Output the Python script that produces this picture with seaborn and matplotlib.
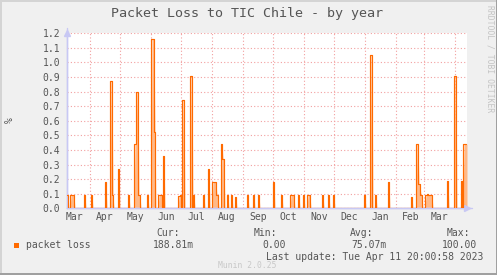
import numpy as np
import pandas as pd
import matplotlib
matplotlib.use("Agg")
import matplotlib.pyplot as plt
from matplotlib.patches import Rectangle
import seaborn as sns

# ---------------- data ----------------
start_date = "2022-03-09"
n_days = 400
# day offsets (from start_date) with non-zero packet loss and their values (%)
loss_days = [0, 3, 4, 5, 6, 17, 24, 38, 43, 44, 45, 51, 61, 67, 68, 69, 70, 71, 72,
             80, 84, 85, 86, 87, 91, 92, 93, 94, 96, 111, 112, 113, 115, 116,
             123, 124, 126, 136, 141, 145, 146, 147, 148, 149, 150, 154, 155, 156,
             160, 164, 168, 180, 186, 191, 206, 214, 223, 224, 225, 226, 231, 236,
             240, 241, 242, 255, 261, 266, 297, 303, 304, 308, 321, 344, 349, 350,
             351, 352, 353, 354, 358, 359, 360, 361, 362, 363, 364, 380, 387, 388,
             394, 396, 397, 398, 399]
loss_vals = [0.09, 0.09, 0.09, 0.09, 0.09, 0.09, 0.09, 0.18, 0.87, 0.87, 0.09, 0.27, 0.09,
             0.44, 0.44, 0.80, 0.80, 0.09, 0.09,
             0.09, 1.16, 1.16, 1.16, 0.52, 0.09, 0.09, 0.09, 0.09, 0.36, 0.085, 0.085, 0.09,
             0.74, 0.74, 0.91, 0.91, 0.09, 0.09, 0.27, 0.18, 0.18, 0.18, 0.18, 0.09, 0.09,
             0.44, 0.34, 0.34, 0.09, 0.09, 0.08, 0.09, 0.09, 0.09, 0.18, 0.09, 0.09, 0.09,
             0.09, 0.09, 0.09, 0.09, 0.09, 0.09, 0.09, 0.09, 0.09, 0.09, 0.09, 1.05, 1.05,
             0.09, 0.18, 0.08, 0.44, 0.44, 0.17, 0.17, 0.09, 0.09, 0.09, 0.09, 0.10, 0.09,
             0.09, 0.09, 0.09, 0.19, 0.91, 0.91, 0.19, 0.44, 0.44, 0.44, 0.44]
month_labels = ["Mar", "Apr", "May", "Jun", "Jul", "Aug", "Sep", "Oct", "Nov", "Dec",
                "Jan", "Feb", "Mar"]
month_starts = ["2022-03-01", "2022-04-01", "2022-05-01", "2022-06-01", "2022-07-01",
                "2022-08-01", "2022-09-01", "2022-10-01", "2022-11-01", "2022-12-01",
                "2023-01-01", "2023-02-01", "2023-03-01", "2023-04-01"]
y_ticks = [0.0, 0.1, 0.2, 0.3, 0.4, 0.5, 0.6, 0.7, 0.8, 0.9, 1.0, 1.1, 1.2]
legend_name = "packet loss"
stat_headers = ["Cur:", "Min:", "Avg:", "Max:"]
stat_values = ["188.81m", "0.00", "75.07m", "100.00"]
title = "Packet Loss to TIC Chile - by year"
last_update = "Last update: Tue Apr 11 20:00:58 2023"

# ---------------- build series ----------------
t0 = pd.Timestamp(start_date)
dates = pd.date_range(t0, periods=n_days, freq="D")
values = np.zeros(n_days)
values[np.array(loss_days)] = loss_vals
df = pd.DataFrame({"date": dates, "loss": values})

# ---------------- style ----------------
sns.set_theme(style="white")
plt.rcParams["font.family"] = ["DejaVu Sans Mono"]
TXT = "#555555"
LINE = "#ff6a00"
LIGHT = "#ffb988"
GRID = "#f2a0a0"
AXC = "#c8c8f4"

W, H = 497, 275
fig = plt.figure(figsize=(W / 100, H / 100), dpi=100)
fig.patch.set_facecolor("#f0f0f0")

L, R, T, B = 67, 467, 33.3, 208.3
ax = fig.add_axes([L / W, 1 - B / H, (R - L) / W, (B - T) / H])
ax.set_facecolor("white")

# soft trailing glow (antialiasing look) + crisp step line
ax.fill_between(df["date"] + pd.Timedelta(days=1), 0, df["loss"], color=LIGHT,
                linewidth=0, zorder=2)
sns.lineplot(data=df, x="date", y="loss", ax=ax, color=LINE, linewidth=0.85,
             drawstyle="steps-post", zorder=6)

ax.set_ylim(0, 1.2)

# grid / ticks
ms = pd.to_datetime(month_starts)
ax.set_xticks(ms)
ax.set_xticklabels([""] * len(ms))
mids = ms[:-1] + pd.Timedelta(days=15)
ax.set_xticks(mids, minor=True)
ax.set_xticklabels(month_labels, minor=True)
ax.set_yticks(y_ticks)
ax.set_yticklabels([f"{v:.1f}" for v in y_ticks])
ax.set_xlim(t0, t0 + pd.Timedelta(days=n_days))
ax.grid(True, which="major", color=GRID, linestyle=(0, (1, 2)), linewidth=0.8, zorder=1)
ax.tick_params(axis="x", which="major", length=2, color=GRID, direction="out", pad=1)
ax.tick_params(axis="x", which="minor", length=0, labelsize=7, labelcolor=TXT, pad=3)
ax.tick_params(axis="y", which="major", length=2, color=AXC, labelsize=7, labelcolor=TXT, pad=3)
ax.set_xlabel("")
ax.set_ylabel("")

for s in ["top", "right"]:
    ax.spines[s].set_visible(False)
for s in ["left", "bottom"]:
    ax.spines[s].set_color(AXC)
    ax.spines[s].set_linewidth(1.0)
    ax.spines[s].set_zorder(4)

# axis arrows
ax.plot([0], [1.0], marker="^", color=AXC, markersize=4, transform=ax.transAxes,
        clip_on=False, zorder=5)
ax.plot([1.0], [0], marker=">", color=AXC, markersize=4, transform=ax.transAxes,
        clip_on=False, zorder=5)
ax.plot([0, 1.0125], [0, 0], color=AXC, linewidth=1.0, transform=ax.transAxes,
        clip_on=False, zorder=4)
ax.plot([0, 0], [0, 1.03], color=AXC, linewidth=1.0, transform=ax.transAxes,
        clip_on=False, zorder=4)

def px(x, y):
    return x / W, 1 - y / H

fig.text(*px(247, 13.5), title, ha="center", va="center", fontsize=9.6, color=TXT)
fig.text(*px(10, 120), "%", ha="center", va="center", rotation=90, fontsize=7, color=TXT)
fig.text(*px(490, 5), "RRDTOOL / TOBI OETIKER", ha="center", va="top", rotation=270,
         fontsize=5.8, color="#c4c4c4")

# legend block
fig.patches.append(Rectangle(px(14, 248), 5 / W, 5 / H, transform=fig.transFigure,
                             facecolor=LINE, edgecolor="none"))
fig.text(*px(26.5, 245.5), legend_name, ha="left", va="center", fontsize=7, color=TXT)
hdr_right = [180, 277, 373, 470]
val_right = [193.5, 286, 387, 477.5]
for h, xr in zip(stat_headers, hdr_right):
    fig.text(*px(xr, 232.5), h, ha="right", va="center", fontsize=7, color=TXT)
for v, xr in zip(stat_values, val_right):
    fig.text(*px(xr, 245.5), v, ha="right", va="center", fontsize=7, color=TXT)
fig.text(*px(483, 257.5), last_update, ha="right", va="center", fontsize=7, color=TXT)
fig.text(*px(247.5, 265.5), "Munin 2.0.25", ha="center", va="center", fontsize=5.8,
         color="#c8c8c8")

# 3D-ish border
fig.patches.append(Rectangle((0, 1 - 2 / H), 1, 2 / H, transform=fig.transFigure,
                             facecolor="#d4d4d4", edgecolor="none"))
fig.patches.append(Rectangle((0, 0), 2 / W, 1, transform=fig.transFigure,
                             facecolor="#d4d4d4", edgecolor="none"))
fig.patches.append(Rectangle((0, 0), 1, 2.5 / H, transform=fig.transFigure,
                             facecolor="#a0a0a0", edgecolor="none"))
fig.patches.append(Rectangle((1 - 1.5 / W, 0), 1.5 / W, 1, transform=fig.transFigure,
                             facecolor="#a0a0a0", edgecolor="none"))

fig.savefig("out.png", dpi=100, facecolor=fig.get_facecolor())
